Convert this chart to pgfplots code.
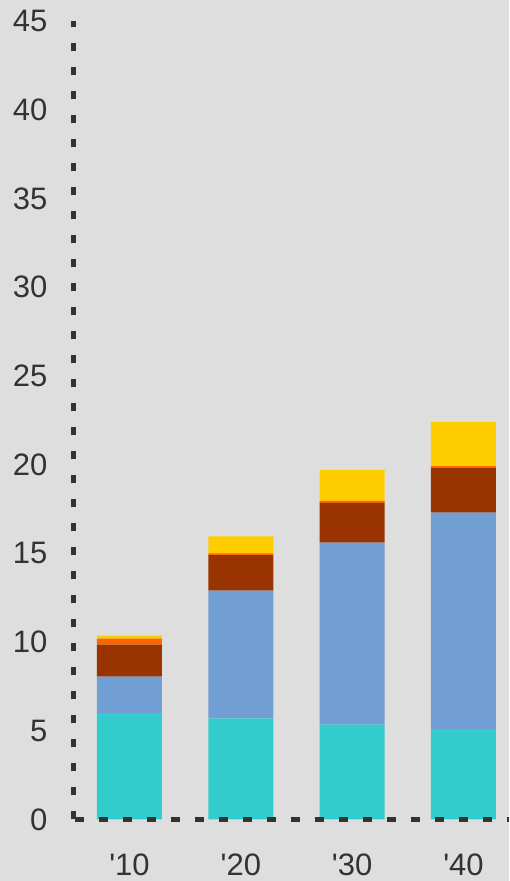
\documentclass[border=0pt]{standalone}
\usepackage{pgfplots}
\pgfplotsset{compat=1.18}
\usepackage{fontspec}
\setmainfont{Liberation Sans}
\definecolor{bg}{HTML}{DEDEDE}
\definecolor{txt}{HTML}{333333}
\definecolor{cteal}{HTML}{33CCCC}
\definecolor{cblue}{HTML}{729FD3}
\definecolor{cbrown}{HTML}{993300}
\definecolor{corange}{HTML}{FF6600}
\definecolor{cyellow}{HTML}{FFCC00}
\begin{document}
\begin{tikzpicture}[x=1pt,y=1pt]
\fill[bg] (0,0) rectangle (509,881);
\begin{axis}[
  at={(73.5pt,61.5pt)}, anchor=south west,
  width=435.5pt, height=798.5pt, scale only axis=true,
  xmin=-0.503, xmax=3.409, ymin=0, ymax=45,
  ybar stacked, bar width=65pt,
  axis on top=true,
  axis lines=left,
  x axis line style={-, line width=4.5pt, color=txt, dash pattern=on 9pt off 15pt, dash phase=-1pt},
  y axis line style={-, line width=4.5pt, color=txt, dash pattern=on 8pt off 16pt},
  major tick length=0pt,
  ytick={0,5,...,45},
  xtick={0,1,2,3},
  xticklabels={\textquotesingle 10,\textquotesingle 20,\textquotesingle 30,\textquotesingle 40},
  /pgf/number format/assume math mode=true,
  tick label style={font=\fontsize{31}{31}\selectfont, text=txt},
  yticklabel style={anchor=east, inner sep=0pt, xshift=-26pt},
  xticklabel style={anchor=north, inner sep=0pt, yshift=-34pt},
  every axis plot/.append style={draw=none},
]
\addplot[fill=cteal] coordinates {(0,6.0) (1,5.7) (2,5.35) (3,5.1)};
\addplot[fill=cblue] coordinates {(0,2.05) (1,7.2) (2,10.25) (3,12.2)};
\addplot[fill=cbrown] coordinates {(0,1.8) (1,2.0) (2,2.25) (3,2.5)};
\addplot[fill=corange] coordinates {(0,0.34) (1,0.1) (2,0.11) (3,0.11)};
\addplot[fill=cyellow] coordinates {(0,0.17) (1,0.95) (2,1.75) (3,2.5)};
\end{axis}
\pgfresetboundingbox
\path[use as bounding box] (0,0) rectangle (509,881);
\end{tikzpicture}
\end{document}
